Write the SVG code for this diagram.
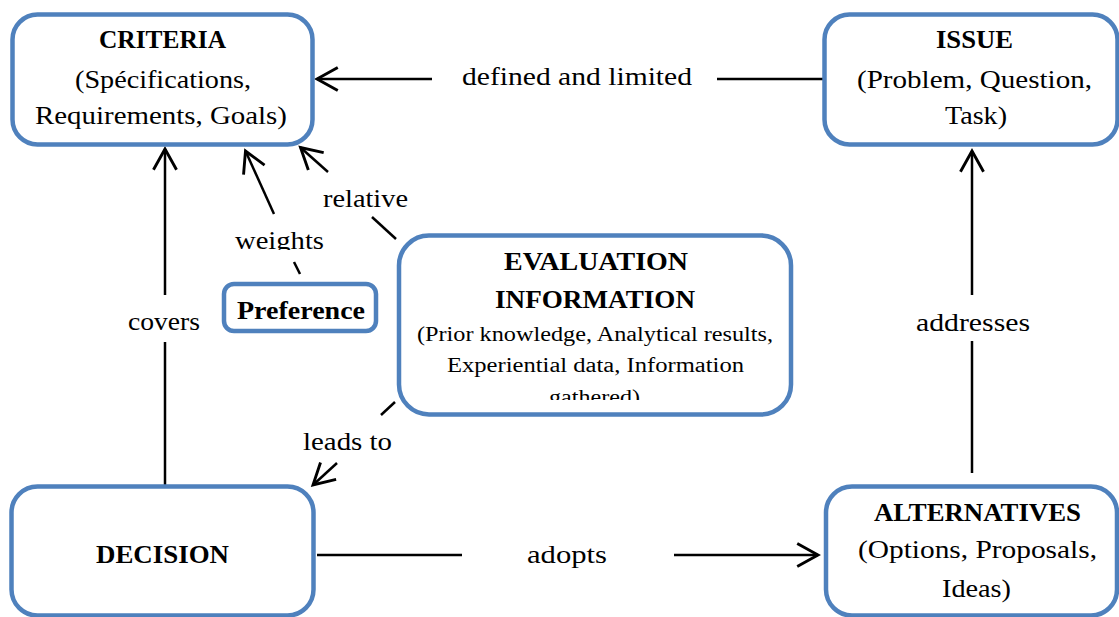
<svg xmlns="http://www.w3.org/2000/svg" width="1119" height="617" viewBox="0 0 1119 617">
<style>
.box{fill:#ffffff;stroke:#4f81bd;stroke-width:4.5}
.t{font-family:"Liberation Serif","Times New Roman",serif;font-size:25px;fill:#000}
.b{font-weight:bold}
.s{font-size:20px}
.c{stroke:#000;stroke-width:2.5;fill:none}
</style>
<defs>
<marker id="arr" markerUnits="userSpaceOnUse" markerWidth="30" markerHeight="30" viewBox="-22 -13 26 26" refX="0" refY="0" orient="auto" overflow="visible">
<path d="M-18,-10 L0,0 L-18,10" fill="none" stroke="#000" stroke-width="2.5" stroke-linejoin="miter"/>
</marker>
<clipPath id="clipW"><rect x="220" y="200" width="120" height="50"/></clipPath>
<clipPath id="clipE"><rect x="400" y="237" width="390" height="163"/></clipPath>
</defs>
<rect width="1119" height="617" fill="#ffffff"/>
<g id="connectors">
<line class="c" x1="823" y1="79" x2="717" y2="79"/>
<line class="c" x1="432" y1="79" x2="317" y2="79" marker-end="url(#arr)"/>
<text class="t" x="462" y="85" textLength="230" lengthAdjust="spacingAndGlyphs">defined and limited</text>
<line class="c" x1="165" y1="485" x2="165" y2="342"/>
<line class="c" x1="165" y1="295" x2="165" y2="149" marker-end="url(#arr)"/>
<text class="t" x="128" y="330" textLength="72" lengthAdjust="spacingAndGlyphs">covers</text>
<line class="c" x1="300" y1="274" x2="294" y2="262"/>
<line class="c" x1="274" y1="214" x2="245.5" y2="151" marker-end="url(#arr)"/>
<text class="t" x="235" y="249" textLength="89" lengthAdjust="spacingAndGlyphs" clip-path="url(#clipW)">weights</text>
<line class="c" x1="396" y1="239" x2="372" y2="217"/>
<line class="c" x1="328" y1="172" x2="300.5" y2="147.5" marker-end="url(#arr)"/>
<text class="t" x="323" y="207" textLength="85" lengthAdjust="spacingAndGlyphs">relative</text>
<line class="c" x1="395" y1="402" x2="381" y2="415"/>
<line class="c" x1="337" y1="463" x2="313" y2="485" marker-end="url(#arr)"/>
<text class="t" x="303" y="450" textLength="89" lengthAdjust="spacingAndGlyphs">leads to</text>
<line class="c" x1="317" y1="555" x2="462" y2="555"/>
<line class="c" x1="674" y1="555" x2="818" y2="555" marker-end="url(#arr)"/>
<text class="t" x="527" y="563" textLength="80" lengthAdjust="spacingAndGlyphs">adopts</text>
<line class="c" x1="972" y1="473" x2="972" y2="341"/>
<line class="c" x1="972" y1="295" x2="972" y2="151" marker-end="url(#arr)"/>
<text class="t" x="916" y="331" textLength="114" lengthAdjust="spacingAndGlyphs">addresses</text>
</g>
<g id="criteria">
<rect class="box" x="12.5" y="14.5" width="300" height="130" rx="25"/>
<text class="t b" x="99" y="48" textLength="127" lengthAdjust="spacingAndGlyphs">CRITERIA</text>
<text class="t" x="75" y="88" textLength="176" lengthAdjust="spacingAndGlyphs">(Spécifications,</text>
<text class="t" x="35" y="124" textLength="252" lengthAdjust="spacingAndGlyphs">Requirements,  Goals)</text>
</g>
<g id="issue">
<rect class="box" x="824.5" y="14.5" width="293" height="130" rx="25"/>
<text class="t b" x="936" y="48" textLength="77" lengthAdjust="spacingAndGlyphs">ISSUE</text>
<text class="t" x="857" y="88" textLength="235" lengthAdjust="spacingAndGlyphs">(Problem,  Question,</text>
<text class="t" x="945" y="124" textLength="62" lengthAdjust="spacingAndGlyphs">Task)</text>
</g>
<g id="preference">
<rect class="box" x="224" y="284" width="152" height="47" rx="10"/>
<text class="t b" x="237" y="319" textLength="128" lengthAdjust="spacingAndGlyphs">Preference</text>
</g>
<g id="evaluation">
<rect class="box" x="399" y="235.5" width="392" height="179" rx="30"/>
<text class="t b" x="504" y="270" textLength="184" lengthAdjust="spacingAndGlyphs">EVALUATION</text>
<text class="t b" x="495" y="308" textLength="200" lengthAdjust="spacingAndGlyphs">INFORMATION</text>
<text class="t s" x="417" y="341" textLength="356" lengthAdjust="spacingAndGlyphs">(Prior knowledge, Analytical results,</text>
<text class="t s" x="447" y="372" textLength="297" lengthAdjust="spacingAndGlyphs">Experiential data, Information</text>
<text class="t s" x="549" y="404" textLength="91" lengthAdjust="spacingAndGlyphs" clip-path="url(#clipE)">gathered)</text>
</g>
<g id="decision">
<rect class="box" x="11.5" y="486.5" width="302" height="129" rx="26"/>
<text class="t b" x="96" y="563" textLength="133" lengthAdjust="spacingAndGlyphs">DECISION</text>
</g>
<g id="alternatives">
<rect class="box" x="826" y="486.5" width="291" height="129" rx="26"/>
<text class="t b" x="874" y="521" textLength="207" lengthAdjust="spacingAndGlyphs">ALTERNATIVES</text>
<text class="t" x="858" y="558" textLength="239" lengthAdjust="spacingAndGlyphs">(Options,  Proposals,</text>
<text class="t" x="942" y="597" textLength="69" lengthAdjust="spacingAndGlyphs">Ideas)</text>
</g>
</svg>
